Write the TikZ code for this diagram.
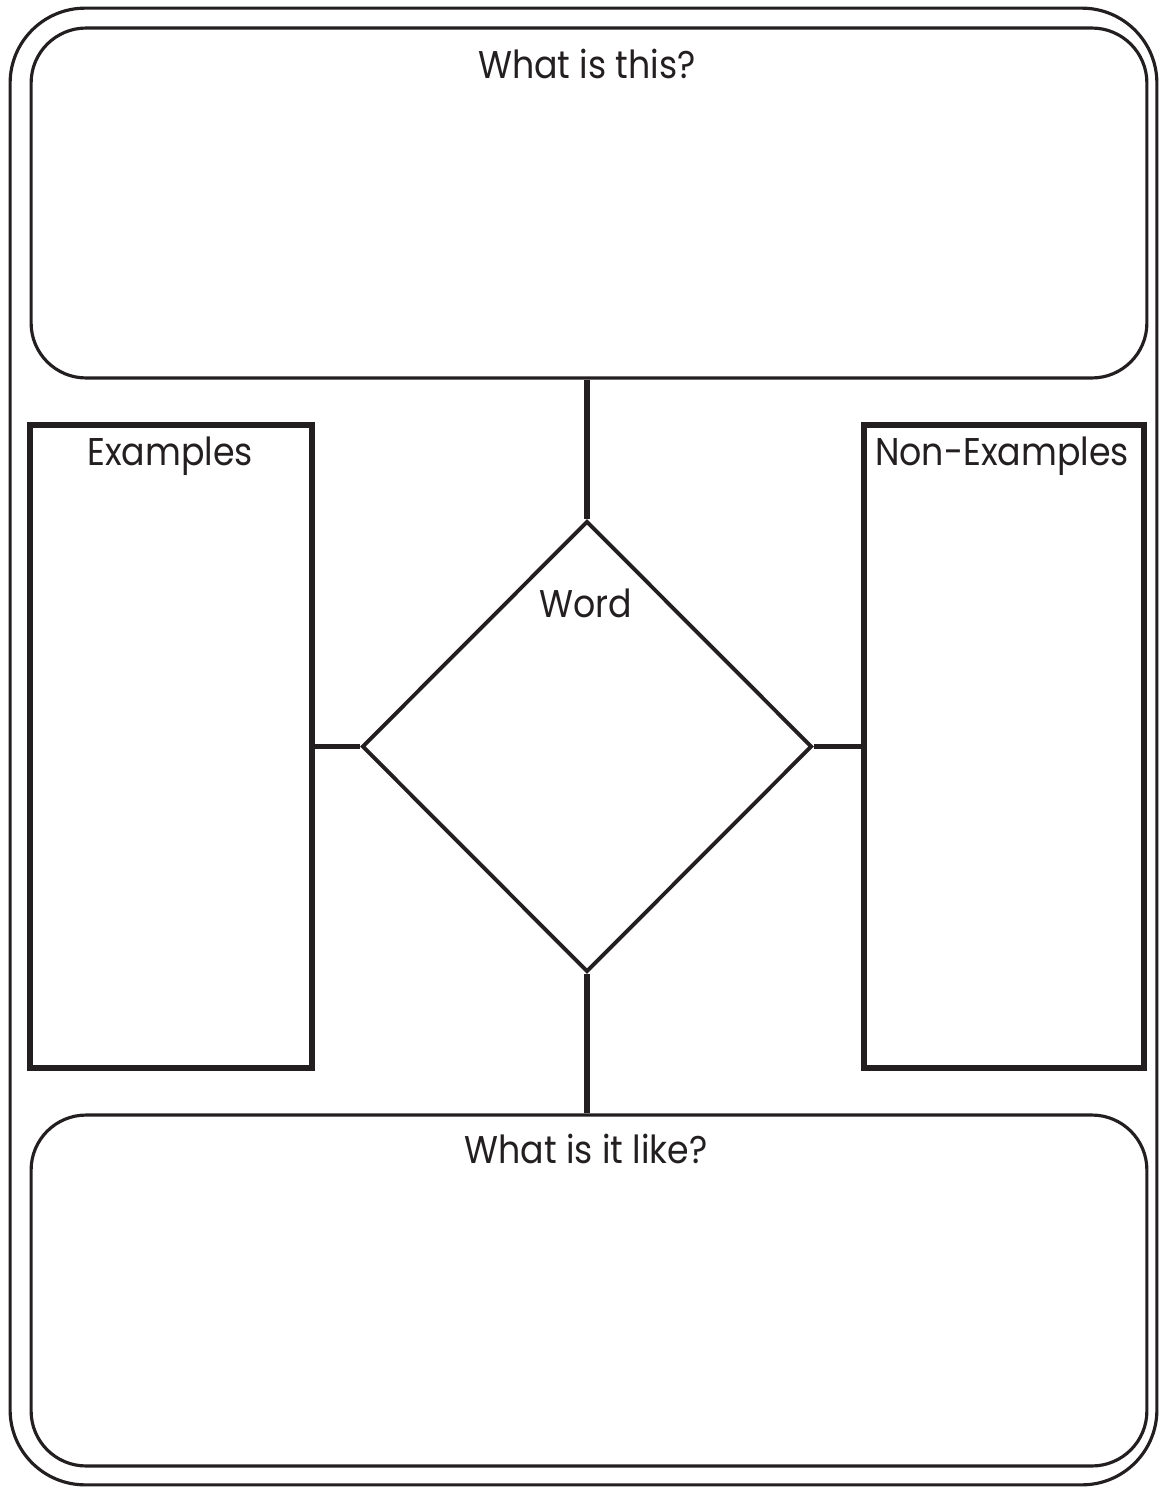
\documentclass[tikz,border=0pt]{standalone}
\usepackage{fontspec}
\setmainfont{Poppins}
\newfontfamily\labelfont[FakeStretch=0.9]{Poppins}
\usetikzlibrary{shapes.geometric,positioning}
\definecolor{Ink}{RGB}{35,31,32}
\tikzset{
  frame/.style={draw=Ink,line width=1.8pt,rounded corners=1.5cm,inner sep=0pt},
  panel/.style={draw=Ink,line width=1.8pt,rounded corners=1.1cm,inner sep=0pt,minimum width=22.32cm},
  listbox/.style={draw=Ink,line width=3.5pt,inner sep=0pt,minimum height=12.86cm},
  wordbox/.style={diamond,draw=Ink,line width=2.2pt,inner sep=0pt,minimum width=9cm,minimum height=9.02cm},
  link/.style={draw=Ink,line width=2.9pt},
  title/.style={anchor=base,text=Ink,font=\labelfont\fontsize{22}{26}\selectfont,inner sep=0pt}
}
\begin{document}
\begin{tikzpicture}[x=0.02cm,y=-0.02cm]
  \useasboundingbox (0,0) rectangle (1159,1487);
  \node[frame,minimum width=22.94cm,minimum height=29.54cm] (outer) at (583.5,746.5) {};
  \node[panel,minimum height=7cm] (what) at (589,203) {};
  \node[panel,minimum height=7.02cm] (like) at (589,1290.5) {};
  \node[listbox,minimum width=5.64cm] (ex) at (171,746.5) {};
  \node[listbox,minimum width=5.6cm] (nonex) at (1004,746.5) {};
  \node[wordbox] (word) at (587,746.5) {};
  % connectors
  \draw[link] (word.north) -- (word.north |- what.south);
  \draw[link] (word.south) -- (word.south |- like.north);
  \draw[link] (word.west) -- (word.west -| ex.east);
  \draw[link] (word.east) -- (word.east -| nonex.west);
  % labels
  \node[title] (whatlbl) at (587,79) {What is this?};
  \node[title] (exlbl) at (170,465) {Examples};
  \node[title] (nonexlbl) at (1002,465) {Non-Examples};
  \node[title] (wordlbl) at (586,617) {Word};
  \node[title] (likelbl) at (586,1163) {What is it like?};
\end{tikzpicture}
\end{document}
